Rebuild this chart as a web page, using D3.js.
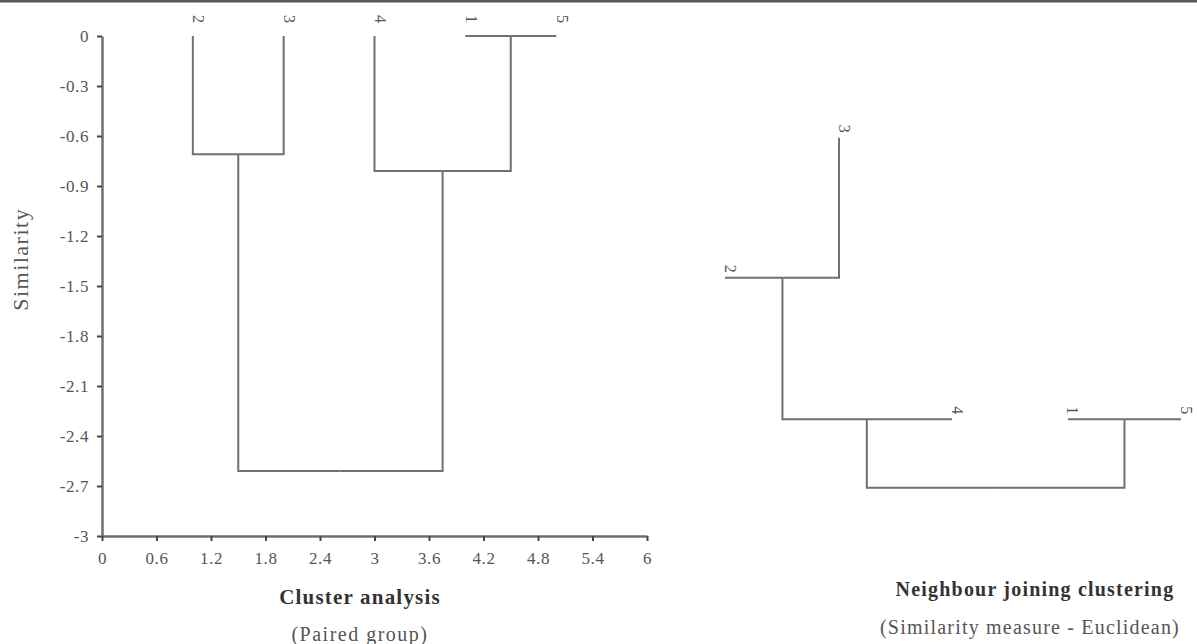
<!DOCTYPE html>
<html>
<head>
<meta charset="utf-8">
<script src="https://cdn.jsdelivr.net/npm/d3@7"></script>
<style>
  body { margin: 0; background: #fff; }
  svg { display: block; font-family: "Liberation Serif", "DejaVu Serif", serif; }
</style>
</head>
<body>
<script>
var width = 1197;
var height = 644;

// paired group dendrogram (left): node id, parent, x position, similarity
var pgId = ['2', '3', '4', '1', '5', '23', '15', '415', 'root'];
var pgParent = ['23', '23', '415', '15', '15', 'root', '415', 'root', null];
var pgX = [1, 2, 3, 4, 5, 1.5, 4.5, 3.75, 2.625];
var pgY = [0, 0, 0, 0, 0, -0.71, 0, -0.81, -2.61];

// neighbour joining tree (right)
var njId = ['2', '3', '4', '1', '5', '23', '423', '15', 'root'];
var njParent = ['23', '23', '423', '15', '15', '423', 'root', 'root', null];
var njX = [0, 1.27, 2.53, 3.82, 5.08, 0.64, 1.58, 4.45, 3.0];
var njY = [-1.45, -0.61, -2.30, -2.30, -2.30, -1.45, -2.30, -2.30, -2.71];

// axis ticks
var xTicks = [0, 0.6, 1.2, 1.8, 2.4, 3, 3.6, 4.2, 4.8, 5.4, 6];
var yTicks = [0, -0.3, -0.6, -0.9, -1.2, -1.5, -1.8, -2.1, -2.4, -2.7, -3];

var lineColor = '#707070';
var textColor = '#555';

var svg = d3.select('body')
  .append('svg')
  .attr('width', width)
  .attr('height', height);

// top rule
svg.append('line')
  .attr('x1', 0).attr('x2', width)
  .attr('y1', 1).attr('y2', 1)
  .attr('stroke', '#5a5a5a')
  .attr('stroke-width', 3);

var y = d3.scaleLinear().domain([0, -3]).range([36, 536]);
var x = d3.scaleLinear().domain([0, 6]).range([102, 647]);
var xR = d3.scaleLinear().domain([0, 5.08]).range([725, 1181]);

function buildNodes(ids, parents, xs, ys) {
  return ids.map(function(d, i) {
    return { id: d, parent: parents[i], x: xs[i], y: ys[i] };
  });
}

function drawTree(nodes, xs, labelDx, labelDy) {
  var root = d3.stratify()
    .id(function(d) { return d.id; })
    .parentId(function(d) { return d.parent; })(nodes);

  var g = svg.append('g');

  // elbow: along parent's level to the child x, then to child's level
  g.selectAll('path.link')
    .data(root.links())
    .enter()
    .append('path')
    .attr('class', 'link')
    .attr('fill', 'none')
    .attr('stroke', lineColor)
    .attr('stroke-width', 2)
    .attr('d', function(l) {
      return 'M' + xs(l.source.data.x) + ',' + y(l.source.data.y) +
        'H' + xs(l.target.data.x) + 'V' + y(l.target.data.y);
    });

  g.selectAll('text.leaf')
    .data(root.leaves())
    .enter()
    .append('text')
    .attr('class', 'leaf')
    .attr('transform', function(d) {
      return 'translate(' + (xs(d.data.x) + labelDx) + ',' + (y(d.data.y) + labelDy) + ') rotate(90)';
    })
    .attr('text-anchor', 'middle')
    .attr('dominant-baseline', 'central')
    .attr('font-size', 16)
    .attr('fill', textColor)
    .text(function(d) { return d.id; });
}

// axes of the left chart
var yAxis = d3.axisLeft(y)
  .tickValues(yTicks)
  .tickSize(5)
  .tickSizeOuter(0)
  .tickPadding(8)
  .tickFormat(function(d) { return String(+d.toFixed(1)); });

var xAxis = d3.axisBottom(x)
  .tickValues(xTicks)
  .tickSize(5)
  .tickSizeOuter(0)
  .tickPadding(11)
  .tickFormat(function(d) { return String(d); });

var gy = svg.append('g')
  .attr('transform', 'translate(' + x(0) + ',0)')
  .call(yAxis);

var gx = svg.append('g')
  .attr('transform', 'translate(0,' + y(-3) + ')')
  .call(xAxis);

[gx, gy].forEach(function(g) {
  g.select('.domain').attr('stroke', lineColor).attr('stroke-width', 2.5);
  g.selectAll('.tick line').attr('stroke', '#444').attr('stroke-width', 2);
  g.selectAll('.tick text')
    .attr('fill', textColor)
    .attr('font-size', 17)
    .attr('letter-spacing', 0.6)
    .attr('font-family', '"Liberation Serif", serif');
});

svg.append('text')
  .attr('transform', 'translate(28,' + y(-1.34) + ') rotate(-90)')
  .attr('text-anchor', 'middle')
  .attr('font-size', 22)
  .attr('letter-spacing', 1.5)
  .attr('fill', textColor)
  .text('Similarity');

drawTree(buildNodes(pgId, pgParent, pgX, pgY), x, 6, -17);
drawTree(buildNodes(njId, njParent, njX, njY), xR, 5, -9);

// captions
svg.append('text')
  .attr('x', 360).attr('y', 604)
  .attr('text-anchor', 'middle')
  .attr('font-size', 21)
  .attr('letter-spacing', 1.2)
  .attr('font-weight', 'bold')
  .attr('fill', '#333')
  .text('Cluster analysis');

svg.append('text')
  .attr('x', 360).attr('y', 641)
  .attr('text-anchor', 'middle')
  .attr('font-size', 20)
  .attr('letter-spacing', 1.5)
  .attr('fill', textColor)
  .text('(Paired group)');

svg.append('text')
  .attr('x', 1035).attr('y', 596)
  .attr('text-anchor', 'middle')
  .attr('font-size', 20)
  .attr('letter-spacing', 1.2)
  .attr('font-weight', 'bold')
  .attr('fill', '#333')
  .text('Neighbour joining clustering');

svg.append('text')
  .attr('x', 1030).attr('y', 634)
  .attr('text-anchor', 'middle')
  .attr('font-size', 20)
  .attr('letter-spacing', 1.2)
  .attr('fill', textColor)
  .text('(Similarity measure - Euclidean)');
</script>
</body>
</html>
